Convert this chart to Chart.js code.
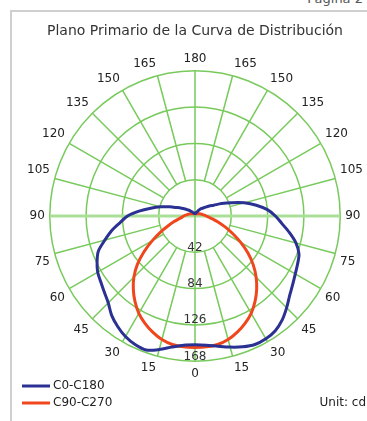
<!DOCTYPE html>
<html>
<head>
<meta charset="utf-8">
<script src="https://cdn.jsdelivr.net/npm/chart.js@4.4.1/dist/chart.umd.min.js"></script>
<style>
  html, body { margin: 0; padding: 0; background: #fff; }
  #wrap { position: relative; width: 367px; height: 421px; overflow: hidden; }
  #frame { position: absolute; left: 10px; top: 10px; right: -10px; bottom: -10px;
           border-top: 2px solid #cfcfcf; border-left: 2px solid #cfcfcf; }
  #page { position: absolute; right: 4px; top: -9px; font: 13px "DejaVu Sans", sans-serif; color: #555; }
  canvas { position: absolute; left: 0; top: 0; }
</style>
</head>
<body>
<div id="wrap">
  <div id="frame"></div>
  <div id="page">Página 2</div>
  <canvas id="polarChart" width="367" height="421"></canvas>
</div>
<script>
// ==========================================
// DATA (candela, gamma measured from nadir)
// ==========================================
const gammaAngles = [0, 5, 10, 15, 20, 25, 30, 35, 40, 45, 50, 55, 60, 65, 70, 75, 80, 85, 90,
                     95, 100, 105, 110, 115, 120, 125, 130, 135, 140, 145, 150, 155, 160, 165, 170, 175, 180];

// blue curve, right half (C0) and left half (C180)
const c0Values   = [149, 150, 153, 157, 161, 164, 164, 162, 157, 150, 143, 138, 134, 131, 128, 121, 111, 101, 93,
                    84, 72, 59, 45, 34, 25, 20, 16, 13, 11, 9, 7, 5, 4, 4, 3, 3, 3];
const c180Values = [149, 150, 154, 160, 165, 164, 161, 156, 150, 142, 137, 133, 130, 125, 119, 108, 98, 87, 78,
                    65, 52, 41, 31, 23, 18, 14, 11, 9, 7, 6, 5, 4, 4, 3, 3, 3, 3];

// red curve, right half (C90) and left half (C270)
const c90Values  = [152, 152, 151, 148, 143, 137, 130, 121, 111, 100, 88, 75, 61, 48, 37, 28, 21, 16, 13,
                    11, 9, 8, 7, 6, 5, 5, 4, 4, 4, 3, 3, 3, 3, 3, 3, 3, 3];
const c270Values = [152, 152, 151, 148, 143, 137, 130, 121, 111, 100, 87, 72, 57, 44, 33, 25, 19, 15, 13,
                    11, 9, 8, 7, 6, 5, 5, 4, 4, 4, 3, 3, 3, 3, 3, 3, 3, 3];

const intensityTicks = [42, 84, 126, 168];
const seriesNames = ['C0-C180', 'C90-C270'];
const titleText = 'Plano Primario de la Curva de Distribución';
const unitText = 'Unit: cd';

const BLUE = '#2b3192';
const RED = '#f0461e';
const GREEN = '#78ca5c';
const LIGHT_GREEN = '#aadf97';
const FONT = '"DejaVu Sans", Verdana, sans-serif';

// radar runs clockwise from the top: right half 180 -> 0, then left half 0 -> 180
const half = gammaAngles.length - 1;
const radarLabels = [];
const blueData = [];
const redData = [];
for (let i = 0; i < half * 2; i++) {
    const k = i <= half ? half - i : i - half;
    radarLabels.push(gammaAngles[k]);
    blueData.push(i <= half ? c0Values[k] : c180Values[k]);
    redData.push(i <= half ? c90Values[k] : c270Values[k]);
}

// ==========================================
// GRID SPOKES + TICK LABELS
// ==========================================
const polarGrid = {
    id: 'polarGrid',
    beforeDatasetsDraw(chart) {
        const s = chart.scales.r;
        const ctx = chart.ctx;
        const inner = s.getDistanceFromCenterForValue(intensityTicks[0]);
        const outer = s.getDistanceFromCenterForValue(intensityTicks[intensityTicks.length - 1]);
        ctx.save();

        // horizontal 90 line, wide and pale
        const l = s.getPointPosition(half * 3 / 2, outer);
        const r = s.getPointPosition(half / 2, outer);
        ctx.strokeStyle = LIGHT_GREEN;
        ctx.lineWidth = 3;
        ctx.beginPath();
        ctx.moveTo(l.x, l.y);
        ctx.lineTo(r.x, r.y);
        ctx.stroke();

        // spokes every 15 degrees, starting at the first ring
        ctx.strokeStyle = GREEN;
        ctx.lineWidth = 1.5;
        for (let i = 0; i < radarLabels.length; i += 3) {
            if (i === half / 2 || i === half * 3 / 2) continue;
            const from = (i % half === 0) ? {x: s.xCenter, y: s.yCenter} : s.getPointPosition(i, inner);
            const to = s.getPointPosition(i, outer);
            ctx.beginPath();
            ctx.moveTo(from.x, from.y);
            ctx.lineTo(to.x, to.y);
            ctx.stroke();
        }

        // intensity labels down the nadir axis
        ctx.fillStyle = '#333';
        ctx.font = '12px ' + FONT;
        ctx.textAlign = 'center';
        ctx.textBaseline = 'alphabetic';
        intensityTicks.forEach(v => {
            const d = s.getDistanceFromCenterForValue(v);
            ctx.fillText(String(v), s.xCenter, s.yCenter + d - 1.5);
        });
        ctx.restore();
    },
    afterDraw(chart) {
        const ctx = chart.ctx;
        ctx.save();
        ctx.font = '12px ' + FONT;
        ctx.textBaseline = 'middle';
        ctx.fillStyle = '#222';
        chart.data.datasets.forEach((ds, i) => {
            const y = 386 + i * 17;
            ctx.strokeStyle = ds.borderColor;
            ctx.lineWidth = 3;
            ctx.beginPath();
            ctx.moveTo(22, y);
            ctx.lineTo(50, y);
            ctx.stroke();
            ctx.textAlign = 'left';
            ctx.fillText(ds.label, 53, y);
        });
        ctx.textAlign = 'right';
        ctx.fillText(unitText, 366, 403);
        ctx.restore();
    }
};

// ==========================================
// CHART
// ==========================================
new Chart(document.getElementById('polarChart'), {
    type: 'radar',
    data: {
        labels: radarLabels,
        datasets: [
            {
                label: seriesNames[0],
                data: blueData,
                borderColor: BLUE,
                backgroundColor: 'transparent',
                borderWidth: 3,
                fill: false,
                tension: 0.3,
                pointRadius: 0
            },
            {
                label: seriesNames[1],
                data: redData,
                borderColor: RED,
                backgroundColor: 'transparent',
                borderWidth: 3,
                fill: false,
                tension: 0.3,
                pointRadius: 0
            }
        ]
    },
    options: {
        responsive: false,
        animation: false,
        layout: {
            padding: { left: 27, right: 4, top: 23, bottom: 37 }
        },
        plugins: {
            legend: { display: false },
            tooltip: { enabled: false },
            title: {
                display: true,
                text: titleText,
                color: '#333',
                font: { family: FONT, size: 14, weight: 'normal' },
                padding: { top: 0, bottom: 8.2 }
            }
        },
        scales: {
            r: {
                min: 0,
                max: 168,
                ticks: { display: false, stepSize: 42 },
                grid: { circular: true, color: GREEN, lineWidth: 1.5 },
                angleLines: { display: false },
                pointLabels: {
                    color: '#222',
                    padding: 5,
                    font: { family: FONT, size: 12 },
                    callback: function(value) {
                        return value % 15 === 0 ? String(value) : '';
                    }
                }
            }
        }
    },
    plugins: [polarGrid]
});
</script>
</body>
</html>
